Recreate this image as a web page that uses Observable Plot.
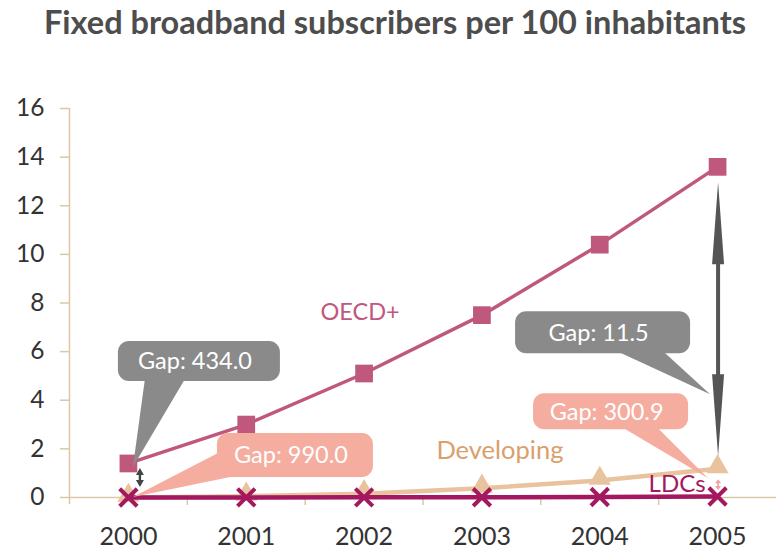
<!DOCTYPE html>
<html>
<head>
<meta charset="utf-8">
<script src="https://cdn.jsdelivr.net/npm/d3@7"></script>
<script src="https://cdn.jsdelivr.net/npm/@observablehq/plot@0.6"></script>
<style>
  html, body { margin: 0; padding: 0; background: #fff; }
  #title { height: 50px; line-height: 44px; text-align: center; font-family: Lato, sans-serif; font-weight: bold; font-size: 32.5px; color: #4d4d4d; padding-left: 10px; white-space: nowrap; }
  #chart svg { display: block; }
</style>
</head>
<body>
<div id="title">Fixed broadband subscribers per 100 inhabitants</div>
<div id="chart"></div>
<script>
const years = [2000, 2001, 2002, 2003, 2004, 2005];
const oecd = [1.4, 3.0, 5.1, 7.5, 10.4, 13.6];
const developing = [0.003, 0.05, 0.15, 0.38, 0.7, 1.18];
const ldcs = [0.001, 0.003, 0.006, 0.01, 0.02, 0.04];
const yTicks = [0, 2, 4, 6, 8, 10, 12, 14, 16];
const seriesNames = ["OECD+", "Developing", "LDCs"];
const gapLabels = ["Gap: 434.0", "Gap: 990.0", "Gap: 11.5", "Gap: 300.9"];

const rows = (vals, name) => years.map((y, i) => ({year: y, value: vals[i], series: name}));
const oecdRows = rows(oecd, seriesNames[0]);
const devRows = rows(developing, seriesNames[1]);
const ldcRows = rows(ldcs, seriesNames[2]);
const boundaries = years.slice(0, -1).map(y => y + 0.5);

const C = {oecd: "#c0587e", dev: "#e9c39d", devText: "#d9a06c", ldc: "#a3185f", axis: "#dcc7a6",
           gray: "#8a8a8a", pink: "#f5ada0", arrow: "#555555"};

function calloutLayer(index, scales) {
  const x = scales.x, y = scales.y;
  const g = d3.create("svg:g");
  const i0 = 0, i5 = years.length - 1;
  const specs = [
    {ax: x(years[i0]), ay: y(oecd[i0]), tip: [5, 4], box: [-10, -122, 152, -82], base: [[17, -84], [57, -84]], fill: C.gray, text: gapLabels[0]},
    {ax: x(years[i0]), ay: y(ldcs[i0]), tip: [5, 0], box: [89, -64, 245, -20], base: [[92, -45], [112, -22]], fill: C.pink, text: gapLabels[1]},
    {ax: x(years[i5]), ay: y(developing[i5]), tip: [-7, -74], box: [-202, -157, -27, -115], base: [[-100, -117], [-54, -117]], fill: C.gray, text: gapLabels[2]},
    {ax: x(years[i5]), ay: y(developing[i5]), tip: [-9, 10], box: [-184, -75, -29, -39], base: [[-95, -41], [-60, -41]], fill: C.pink, text: gapLabels[3]}
  ];
  for (const s of specs) {
    const [bx0, by0, bx1, by1] = s.box;
    g.append("path")
      .attr("d", `M${s.ax + s.base[0][0]},${s.ay + s.base[0][1]}L${s.ax + s.tip[0]},${s.ay + s.tip[1]}L${s.ax + s.base[1][0]},${s.ay + s.base[1][1]}Z`)
      .attr("fill", s.fill);
    g.append("rect")
      .attr("x", s.ax + bx0).attr("y", s.ay + by0)
      .attr("width", bx1 - bx0).attr("height", by1 - by0)
      .attr("rx", 11).attr("fill", s.fill);
    g.append("text")
      .attr("x", s.ax + (bx0 + bx1) / 2 - 4).attr("y", s.ay + (by0 + by1) / 2)
      .attr("dy", "0.36em").attr("text-anchor", "middle")
      .attr("fill", "white").attr("font-size", 23.5).attr("font-family", "Lato, sans-serif")
      .text(s.text);
  }
  function dblArrow(cx, yTop, yBot, headLen, headHalf, shaftHalf, fill) {
    const d = `M${cx},${yTop}L${cx + headHalf},${yTop + headLen}L${cx + shaftHalf},${yTop + headLen}` +
      `L${cx + shaftHalf},${yBot - headLen}L${cx + headHalf},${yBot - headLen}L${cx},${yBot}` +
      `L${cx - headHalf},${yBot - headLen}L${cx - shaftHalf},${yBot - headLen}L${cx - shaftHalf},${yTop + headLen}` +
      `L${cx - headHalf},${yTop + headLen}Z`;
    g.append("path").attr("d", d).attr("fill", fill);
  }
  dblArrow(x(years[i5]) + 1, y(oecd[i5]) + 16, y(developing[i5]) - 12, 82, 6, 2, C.arrow);
  dblArrow(x(years[i0]) + 12, y(oecd[i0]) + 5, y(0) - 10, 7, 4, 1.2, "#444");
  dblArrow(x(years[i5]) + 1, y(developing[i5]) + 11, y(ldcs[i5]) - 6, 4, 3, 0.8, "#f0a0a0");
  return g.node();
}

const plot = Plot.plot({
  width: 780,
  height: 499,
  marginLeft: 69,
  marginRight: 4,
  marginTop: 58,
  marginBottom: 52,
  style: {fontFamily: "Lato, sans-serif", background: "white"},
  x: {type: "linear", domain: [1999.5, 2005.5], axis: null},
  y: {type: "linear", domain: [0, 16], axis: null},
  marks: [
    Plot.ruleY([0], {stroke: C.axis, strokeWidth: 1.5}),
    Plot.ruleX([1999.5], {x: d => d, y1: -0.3, y2: 16, stroke: C.axis, strokeWidth: 1.5}),
    Plot.ruleX(boundaries, {x: d => d, y1: 0, y2: -0.33, stroke: C.axis, strokeWidth: 1.5}),
    Plot.ruleY(yTicks, {y: d => d, x1: 1999.5, x2: 1999.5, insetLeft: -9, stroke: C.axis, strokeWidth: 1.5}),
    Plot.text(yTicks, {y: d => d, x: 1999.5, text: d => String(d), dx: -25, textAnchor: "end", fontSize: 24.5, fill: "#333"}),
    Plot.text(years, {x: d => d, y: 0, text: d => String(d), dy: 39, fontSize: 25, fill: "#333"}),
    Plot.line(devRows, {x: "year", y: "value", stroke: C.dev, strokeWidth: 4.5}),
    Plot.dot(devRows, {x: "year", y: "value", symbol: "triangle", r: 8.2, fill: C.dev, dy: -2}),
    Plot.line(ldcRows, {x: "year", y: "value", stroke: C.ldc, strokeWidth: 4.5}),
    Plot.dot(ldcRows, {x: "year", y: "value", symbol: "times", r: 8, stroke: C.ldc, strokeWidth: 4}),
    Plot.line(oecdRows, {x: "year", y: "value", stroke: C.oecd, strokeWidth: 3.5}),
    Plot.dot(oecdRows, {x: "year", y: "value", symbol: "square", r: 10, fill: C.oecd}),
    Plot.text([seriesNames[0]], {x: 2002, y: 7.6, dx: -4, text: d => d, fontSize: 23.5, fill: C.oecd}),
    Plot.text([seriesNames[1]], {x: 2003, y: 1.93, dx: 18, text: d => d, fontSize: 25.5, fill: C.devText}),
    Plot.text([seriesNames[2]], {x: 2005, y: 0, dx: -12, dy: -13, textAnchor: "end", text: d => d, fontSize: 24, fill: C.ldc}),
    calloutLayer
  ]
});
document.getElementById("chart").appendChild(plot);
</script>
</body>
</html>
